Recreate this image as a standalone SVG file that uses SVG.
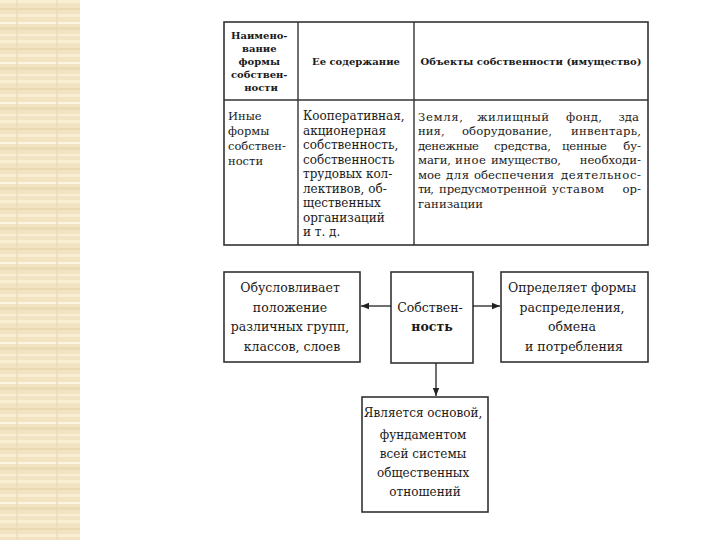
<svg xmlns="http://www.w3.org/2000/svg" width="720" height="540" viewBox="0 0 720 540">
<defs>
<pattern id="bg" x="0" y="0" width="40" height="40" patternUnits="userSpaceOnUse">
<rect width="40" height="40" fill="#f2e4c2"/>
<rect y="0" width="40" height="3" fill="#f8eed4"/>
<rect y="8" width="40" height="2" fill="#ead9b0"/>
<rect y="14" width="40" height="3" fill="#f8eed4"/>
<rect y="22" width="40" height="2" fill="#fbf5e2"/>
<rect y="27" width="40" height="3" fill="#ecdcb5"/>
<rect y="34" width="40" height="2" fill="#f8eed4"/>
<rect x="16" width="2" height="40" fill="#ead9b2" opacity="0.6"/>
</pattern>
<marker id="ah" viewBox="0 0 10 10" refX="10" refY="5" markerWidth="8" markerHeight="8" markerUnits="userSpaceOnUse" orient="auto">
<path d="M0,1 L10,5 L0,9 z" fill="#222"/>
</marker>
<style>
.box{fill:#fff;stroke:#333;stroke-width:1.6}
.ln{stroke:#333;stroke-width:1.4;fill:none}
.h{font-family:"DejaVu Serif","Liberation Serif",serif;font-size:10px;font-weight:bold;fill:#1a1a1a;text-anchor:middle}
.t{font-family:"DejaVu Serif","Liberation Serif",serif;font-size:11.5px;fill:#1a1a1a}
.u{font-size:12px}
.w{font-size:11.7px}
.e{text-anchor:end}
.b{font-family:"DejaVu Serif","Liberation Serif",serif;font-size:12.5px;fill:#1a1a1a;text-anchor:middle}
.s{font-size:12px}
.bb{font-weight:bold}
.con{stroke:#222;stroke-width:1.3;fill:none}
</style>
</defs>
<rect width="720" height="540" fill="#fff"/>
<rect x="0" y="0" width="80" height="540" fill="url(#bg)"/>

<g id="table">
<rect class="box" x="224" y="22" width="424" height="223"/>
<line class="ln" x1="224" y1="100" x2="648" y2="100"/>
<line class="ln" x1="298" y1="22" x2="298" y2="245"/>
<line class="ln" x1="414" y1="22" x2="414" y2="245"/>
<text class="h">
<tspan x="261" y="39">Наимено-</tspan>
<tspan x="261" y="52">вание</tspan>
<tspan x="261" y="65">формы</tspan>
<tspan x="261" y="78">собствен-</tspan>
<tspan x="261" y="91">ности</tspan>
</text>
<text class="h" x="356" y="65">Ее содержание</text>
<text class="h" x="531" y="65">Объекты собственности (имущество)</text>
<text class="t">
<tspan x="228" y="120">Иные</tspan>
<tspan x="228" y="135">формы</tspan>
<tspan x="228" y="150">собствен-</tspan>
<tspan x="228" y="165">ности</tspan>
</text>
<text class="t u">
<tspan x="303" y="120">Кооперативная,</tspan>
<tspan x="303" y="134.5">акционерная</tspan>
<tspan x="303" y="149">собственность,</tspan>
<tspan x="303" y="163.5">собственность</tspan>
<tspan x="303" y="178">трудовых кол-</tspan>
<tspan x="303" y="192.5">лективов, об-</tspan>
<tspan x="303" y="207">щественных</tspan>
<tspan x="303" y="221.5">организаций</tspan>
<tspan x="303" y="236">и т. д.</tspan>
</text>
<g class="t w">
<text x="418" y="120.5" textLength="45" lengthAdjust="spacing">Земля,</text>
<text x="477" y="120.5" textLength="72" lengthAdjust="spacing">жилищный</text>
<text x="566" y="120.5" textLength="36" lengthAdjust="spacing">фонд,</text>
<text class="e" x="639" y="120.5">зда</text>

<text x="418" y="135">ния,</text>
<text x="462" y="135" textLength="90" lengthAdjust="spacing">оборудование,</text>
<text x="571" y="135" textLength="70" lengthAdjust="spacing">инвентарь,</text>

<text x="418" y="149.5" textLength="61" lengthAdjust="spacing">денежные</text>
<text x="494" y="149.5" textLength="57" lengthAdjust="spacing">средства,</text>
<text x="562" y="149.5" textLength="45" lengthAdjust="spacing">ценные</text>
<text class="e" x="641" y="149.5">бу-</text>

<text x="418" y="164" textLength="33" lengthAdjust="spacing">маги,</text>
<text x="455" y="164" textLength="31" lengthAdjust="spacing">иное</text>
<text x="491" y="164" textLength="70" lengthAdjust="spacing">имущество,</text>
<text class="e" x="641" y="164">необходи-</text>

<text x="418" y="178.5" textLength="23" lengthAdjust="spacing">мое</text>
<text x="446" y="178.5" textLength="23" lengthAdjust="spacing">для</text>
<text x="474" y="178.5" textLength="80" lengthAdjust="spacing">обеспечения</text>
<text x="561" y="178.5" textLength="80" lengthAdjust="spacing">деятельнос-</text>

<text x="418" y="193" textLength="16" lengthAdjust="spacing">ти,</text>
<text x="439" y="193" textLength="108" lengthAdjust="spacing">предусмотренной</text>
<text x="552" y="193" textLength="52" lengthAdjust="spacing">уставом</text>
<text class="e" x="641" y="193">ор-</text>

<text x="418" y="207.5">ганизации</text>
</g>
</g>

<g id="node-left">
<rect class="box" x="224" y="272" width="136" height="90"/>
<text class="b">
<tspan x="292" y="292">Обусловливает</tspan>
<tspan x="292" y="312">положение</tspan>
<tspan x="292" y="331">различных групп,</tspan>
<tspan x="292" y="351">классов, слоев</tspan>
</text>
</g>
<g id="node-center">
<rect class="box" x="391" y="272" width="82" height="91"/>
<text class="b">
<tspan x="432" y="312">Собствен-</tspan>
<tspan x="432" y="331" class="bb">ность</tspan>
</text>
</g>
<g id="node-right">
<rect class="box" x="501" y="272" width="147" height="90"/>
<text class="b">
<tspan x="574" y="292">Определяет формы</tspan>
<tspan x="574" y="312">распределения,</tspan>
<tspan x="574" y="331">обмена</tspan>
<tspan x="574" y="351">и потребления</tspan>
</text>
</g>
<g id="node-bottom">
<rect class="box" x="362" y="397" width="126" height="115"/>
<text class="b s">
<tspan x="425" y="417">Является основой,</tspan>
<tspan x="425" y="439">фундаментом</tspan>
<tspan x="425" y="458">всей системы</tspan>
<tspan x="425" y="477">общественных</tspan>
<tspan x="425" y="496">отношений</tspan>
</text>
</g>

<g id="connectors">
<line class="con" x1="391" y1="306" x2="361" y2="306" marker-end="url(#ah)"/>
<line class="con" x1="473" y1="306" x2="500" y2="306" marker-end="url(#ah)"/>
<line class="con" x1="436" y1="363" x2="436" y2="396" marker-end="url(#ah)"/>
</g>
</svg>
